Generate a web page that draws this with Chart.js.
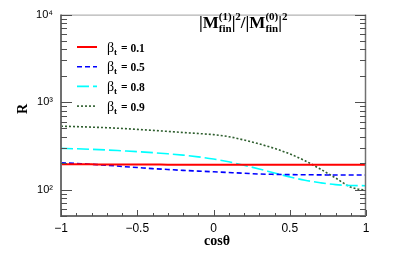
<!DOCTYPE html>
<html><head><meta charset="utf-8">
<script src="https://cdn.jsdelivr.net/npm/chart.js@4.4.1/dist/chart.umd.min.js"></script>
<style>html,body{margin:0;padding:0;background:#fff}#wrap{width:407px;height:256px}</style>
</head><body><div id="wrap"><canvas id="c" width="407" height="256"></canvas></div>
<script>
const cosTheta = [-1,-0.9,-0.8,-0.7,-0.6,-0.5,-0.4,-0.3,-0.2,-0.1,0,0.1,0.2,0.3,0.4,0.5,0.6,0.7,0.8,0.9,1];
const beta01 = [195,195,194.5,194,194,193.5,193.5,193,193,193,192.5,192.5,192.5,192,192,192,192,192,192,192,192];
const beta05 = [203,199,195,190,184,179,174,170,166,163,160,157,154,151,149.5,148.5,148,147.5,147,147,147];
const beta08 = [296,293,289,284,278,272,265,257,248,237,224,208,190,172,155,140,128,120,114,111.5,111];
const beta09 = [531,525,518,510,500,488,476,463,450,438,425,403,369,333,296,256,214,172,136,107,98];
const betaLabels = ['0.1','0.5','0.8','0.9'];
const xMajorTicks = [-1,-0.5,0,0.5,1];
const yDecades = [100,1000,10000];
const seriesColors = ['#ff0000','#0000ff','#00ffff','#2e5e2e'];
const seriesDash = [[],[5,3],[12,4],[2,2]];
const seriesValues = [beta01,beta05,beta08,beta09];

const SERIF = '"Liberation Serif","Times New Roman",serif';
const SANS = '"Liberation Sans",Arial,sans-serif';

const datasets = seriesValues.map((vals,i)=>({
  label: 'βt = ' + betaLabels[i],
  data: cosTheta.map((x,j)=>({x:x,y:vals[j]})),
  borderColor: seriesColors[i],
  borderWidth: i===0?2:1.6,
  borderDash: seriesDash[i],
  pointRadius: 0,
  fill: false,
  cubicInterpolationMode: 'monotone'
}));

const sups = {'0':'⁰','1':'¹','2':'²','3':'³','4':'⁴'};

const decor = {
  id: 'decor',
  afterDatasetsDraw(chart){
    const ctx = chart.ctx;
    const a = chart.chartArea;
    const xs = chart.scales.x, ys = chart.scales.y;
    ctx.save();
    // frame
    ctx.strokeStyle = '#a0a0a0'; ctx.lineWidth = 1;
    ctx.beginPath(); ctx.moveTo(a.left, a.top+0.5); ctx.lineTo(a.right, a.top+0.5); ctx.stroke();
    ctx.strokeStyle = '#707070'; ctx.lineWidth = 1.5;
    ctx.beginPath(); ctx.moveTo(a.right-0.5, a.top); ctx.lineTo(a.right-0.5, a.bottom); ctx.stroke();
    ctx.lineWidth = 2;
    ctx.beginPath(); ctx.moveTo(a.left, a.top); ctx.lineTo(a.left, a.bottom); ctx.lineTo(a.right, a.bottom); ctx.stroke();
    // x ticks
    ctx.strokeStyle = '#505050'; ctx.lineWidth = 1;
    for (let k=-10;k<=10;k++){
      const v = k/10;
      const px = Math.round(xs.getPixelForValue(v))+0.5;
      const len = (k%5===0)?6:3;
      ctx.beginPath(); ctx.moveTo(px, a.bottom); ctx.lineTo(px, a.bottom-len); ctx.stroke();
    }
    // y ticks (left and right)
    for (let d=1; d<=4; d++){
      for (let m=1;m<=9;m++){
        const v = m*Math.pow(10,d);
        if (v<ys.min-1e-9 || v>ys.max+1e-9) continue;
        const py = Math.round(ys.getPixelForValue(v))+0.5;
        const len = (m===1)?11:6;
        ctx.beginPath(); ctx.moveTo(a.left, py); ctx.lineTo(a.left+len, py); ctx.stroke();
        ctx.beginPath(); ctx.moveTo(a.right, py); ctx.lineTo(a.right-len, py); ctx.stroke();
      }
    }
    // legend
    ctx.fillStyle = '#000';
    ctx.textBaseline = 'alphabetic';
    const ly0 = 47, ldy = 19.7;
    chart.data.datasets.forEach((ds,i)=>{
      const y = ly0 + i*ldy;
      ctx.strokeStyle = ds.borderColor; ctx.lineWidth = ds.borderWidth;
      ctx.setLineDash(ds.borderDash);
      ctx.beginPath(); ctx.moveTo(77, y); ctx.lineTo(97, y); ctx.stroke();
      ctx.setLineDash([]);
      let x = 107; const base = y + 4.5;
      ctx.font = '14px ' + SERIF; ctx.fillText('β', x, base); x += ctx.measureText('β').width;
      ctx.font = 'bold 9px ' + SERIF; ctx.fillText('t', x, base+3); x += ctx.measureText('t').width + 1;
      ctx.font = 'bold 11.5px ' + SERIF; ctx.fillText(' = ' + betaLabels[i], x, base);
    });
    // title |M_fin^(1)|^2/|M_fin^(0)|^2
    let tx = 199; const tb = 28;
    const big = 'bold 17px ' + SERIF, small = 'bold 11px ' + SERIF;
    const drawSeg = (t, f, dy) => { ctx.font = f; ctx.fillText(t, tx, tb+dy); return ctx.measureText(t).width; };
    const drawM = (sup) => {
      tx += drawSeg('|M', big, 0);
      ctx.font = small;
      const w1 = ctx.measureText(sup).width, w2 = ctx.measureText('fin').width;
      ctx.fillText(sup, tx, tb-8); ctx.fillText('fin', tx, tb+4);
      tx += Math.max(w1,w2);
      tx += drawSeg('|', big, 0);
      tx += drawSeg('2', small, -8);
    };
    drawM('(1)');
    tx += drawSeg('/', big, 0);
    drawM('(0)');
    // axis titles
    ctx.font = 'bold 14px ' + SERIF; ctx.textAlign = 'center';
    ctx.fillText('cosθ', 217, 245);
    ctx.save(); ctx.translate(27, 109); ctx.rotate(-Math.PI/2);
    ctx.fillText('R', 0, 0); ctx.restore();
    ctx.restore();
  }
};

new Chart(document.getElementById('c'), {
  type: 'line',
  data: { datasets: datasets },
  options: {
    responsive: false, animation: false, devicePixelRatio: 1,
    layout: { padding: { top: 4, right: 41, left: 0, bottom: 0 } },
    plugins: { legend: { display: false }, tooltip: { enabled: false }, title: { display: false } },
    scales: {
      x: {
        type: 'linear', min: -1, max: 1,
        grid: { display: false, drawTicks: false }, border: { display: false },
        afterBuildTicks: s => { s.ticks = xMajorTicks.map(v=>({value:v})); },
        ticks: { padding: 5, color: '#000', font: { family: SANS, size: 12 }, maxRotation: 0, autoSkip: false,
          callback: v => v<0 ? '\u2212' + Math.abs(v) : String(v) },
        afterFit: s => { s.height = 40; }
      },
      y: {
        type: 'logarithmic', min: 50, max: 10000,
        grid: { display: false, drawTicks: false }, border: { display: false },
        afterBuildTicks: s => { s.ticks = yDecades.map(v=>({value:v})); },
        ticks: { padding: 8, color: '#000', font: { family: SANS, size: 11 }, autoSkip: false,
          callback: v => { const e = Math.round(Math.log10(v)); return '10' + sups[String(e)]; } },
        afterFit: s => { s.width = 61; }
      }
    }
  },
  plugins: [decor]
});
</script></body></html>
